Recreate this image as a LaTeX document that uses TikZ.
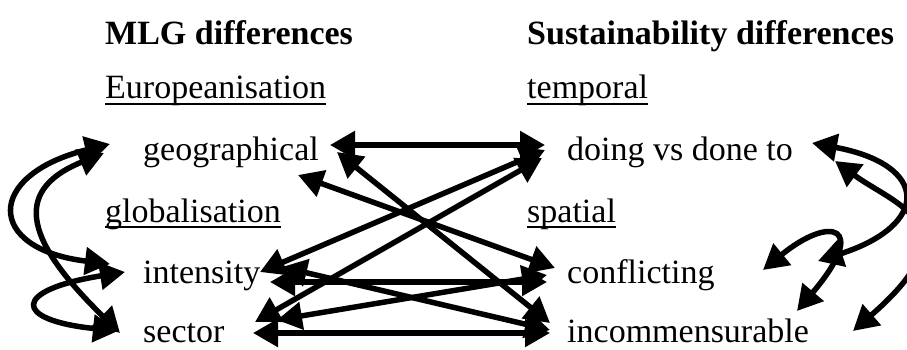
\documentclass[tikz,border=0pt]{standalone}
\usepackage{fontspec}
\setmainfont{Liberation Serif}
\usetikzlibrary{arrows.meta}
\begin{document}
\begin{tikzpicture}[x=1pt,y=-1pt,
  txt/.style={anchor=base west, inner sep=0pt, font=\fontsize{34}{40}\selectfont},
  hd/.style={txt, font=\fontsize{34}{40}\selectfont\bfseries},
  ulin/.style={line width=2pt},
  conn/.style={line width=5.5pt, {Triangle[length=25pt,width=27pt]}-{Triangle[length=25pt,width=27pt]}},
]
\useasboundingbox (0,0) rectangle (907,350);
\clip (0,0) rectangle (907,350);

% texts
\node[hd] (mlg) at (105,45) {MLG differences};
\node[hd] (sus) at (527,45) {Sustainability differences};
\node[txt] (euro) at (105,99) {Europeanisation};
\node[txt] (temp) at (527,99) {temporal};
\node[txt] (geo) at (143,160) {geographical};
\node[txt] (doing) at (567,160) {doing vs done to};
\node[txt] (glob) at (105,222) {globalisation};
\node[txt] (spat) at (527,222) {spatial};
\node[txt] (inten) at (143,283) {intensity};
\node[txt] (confl) at (567,283) {conflicting};
\node[txt] (sect) at (143,342) {sector};
\node[txt] (incom) at (567,342) {incommensurable};

\foreach \n in {euro,temp,glob,spat}
  \draw[ulin] ([yshift=-5pt]\n.base west) -- ([yshift=-5pt]\n.base east);

% connector end points
\coordinate (gD) at (330,145); \coordinate (dG) at (545,145);
\coordinate (gC) at (298,175); \coordinate (cG) at (555,268);
\coordinate (gI) at (337,152); \coordinate (iG) at (550,323);
\coordinate (dIn) at (545,150); \coordinate (inD) at (260,272);
\coordinate (dS) at (542,158); \coordinate (sD) at (255,322);
\coordinate (inC) at (270,282); \coordinate (cIn) at (547,282);
\coordinate (inI) at (282,267); \coordinate (iIn) at (550,330);
\coordinate (sC) at (277,320); \coordinate (cS) at (547,275);
\coordinate (sI) at (253,333); \coordinate (iS) at (550,333);

% left curves
\coordinate (gL1) at (110,144); \coordinate (inL) at (110,264);
\coordinate (gL2) at (104,153); \coordinate (sL2) at (120,333);
\coordinate (inL3) at (125,272); \coordinate (sL3) at (118,331);
% right curves
\coordinate (dR1) at (812,143); \coordinate (endR1) at (818,261);
\coordinate (dR2) at (835,161); \coordinate (iR2) at (853,331);
\coordinate (cR3) at (763,270); \coordinate (iR3) at (797,311);

\draw[conn] (gD) -- (dG);
\draw[conn] (gC) -- (cG);
\draw[conn] (gI) -- (iG);
\draw[conn] (dIn) -- (inD);
\draw[conn] (dS) -- (sD);
\draw[conn] (inC) -- (cIn);
\draw[conn] (inI) -- (iIn);
\draw[conn] (sC) -- (cS);
\draw[conn] (sI) -- (iS);

\draw[conn] (gL1) .. controls (-15,175) and (-15,249) .. (inL);
\draw[conn] (gL2) .. controls (8,192) and (30,245) .. (sL2);
\draw[conn] (inL3) .. controls (12,290) and (12,320) .. (sL3);

\draw[conn] (dR1) .. controls (930,165) and (930,225) .. (endR1);
\draw[conn] (dR2) .. controls (895,205) and (975,225) .. (iR2);
\draw[conn] (cR3) .. controls (830,215) and (870,225) .. (iR3);
\end{tikzpicture}
\end{document}
